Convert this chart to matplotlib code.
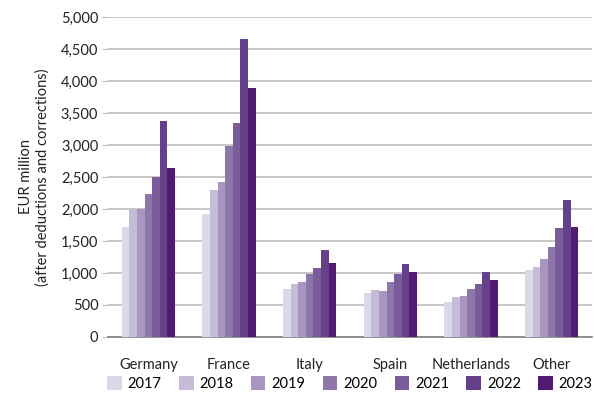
import matplotlib
matplotlib.use("Agg")
import matplotlib.pyplot as plt
import numpy as np
from matplotlib.ticker import FuncFormatter, MultipleLocator

plt.rcParams['font.family'] = ['Lato', 'DejaVu Sans']

categories = ["Germany", "France", "Italy", "Spain", "Netherlands", "Other"]
years = ["2017", "2018", "2019", "2020", "2021", "2022", "2023"]
v2017 = [1715, 1915, 745, 685, 545, 1040]
v2018 = [2000, 2290, 825, 730, 620, 1090]
v2019 = [2000, 2420, 855, 715, 635, 1215]
v2020 = [2230, 2985, 980, 855, 745, 1400]
v2021 = [2495, 3340, 1075, 980, 825, 1700]
v2022 = [3370, 4650, 1355, 1135, 1010, 2135]
v2023 = [2635, 3885, 1150, 1010, 885, 1715]
series = [v2017, v2018, v2019, v2020, v2021, v2022, v2023]
colors = ["#dcd8e8", "#c6bcd8", "#a996c0", "#8d76aa", "#7a5c9a", "#65418a", "#521a72"]

fig = plt.figure(figsize=(5.94, 3.96), dpi=100)
ax = fig.add_axes([108/594, 1 - 337/396, 484/594, 320/396])

x = np.arange(len(categories))
bw = 0.66 / 7
for i, (vals, c, y) in enumerate(zip(series, colors, years)):
    ax.bar(x + (i - 3) * bw, vals, width=bw, color=c, label=y, zorder=3)

ax.set_xlim(-0.5, len(categories) - 0.5)
ax.set_ylim(0, 5000)
ax.yaxis.set_major_locator(MultipleLocator(500))
ax.yaxis.set_major_formatter(FuncFormatter(lambda v, p: f"{int(v):,}"))
ax.grid(axis='y', color='#bdbdbd', linewidth=1.2, zorder=0)
for s in ['top', 'right', 'left']:
    ax.spines[s].set_visible(False)
ax.spines['bottom'].set_color('#808080')
ax.spines['bottom'].set_linewidth(1.2)
ax.tick_params(axis='y', length=4, color='#bdbdbd', labelsize=10.5, pad=3, labelcolor='#222222')
ax.tick_params(axis='x', length=0, labelsize=10.5, pad=15, labelcolor='#222222')
ax.set_xticks(x)
ax.set_xticklabels(categories)
ax.set_ylabel("EUR million\n(after deductions and corrections)", fontsize=10.5, color='#222222', labelpad=8)

leg = fig.legend(loc='lower left', bbox_to_anchor=(107/594, 5/396), ncol=7, frameon=False,
                 fontsize=10.5, handlelength=1.0, handleheight=1.0, handletextpad=0.4,
                 columnspacing=1.2, borderaxespad=0, borderpad=0)

fig.savefig("out.png", dpi=100)
